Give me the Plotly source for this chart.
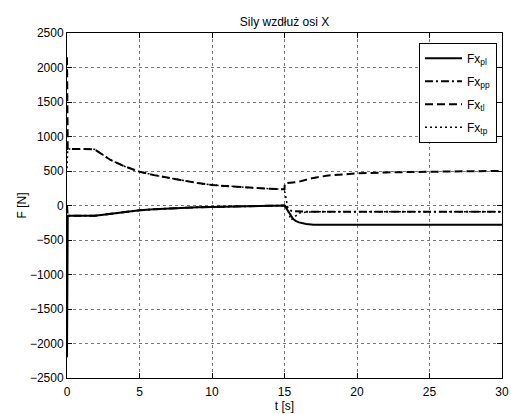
import plotly.graph_objects as go

# Time samples [s]
t = [0, 0.05, 1, 1.9, 2.5, 3, 4, 5, 6, 7, 8, 9, 10, 11, 12, 13, 14, 15,
     15.02, 15.15, 15.3, 15.45, 15.6, 15.8, 16, 16.5, 17, 18, 19, 20,
     22, 24, 26, 28, 30]

# Longitudinal wheel forces [N]
fx_pl = [-2200, -150, -150, -148, -135, -120, -95, -70, -55, -42, -32, -25, -20,
         -14, -10, -6, -3, 0,
         -5, -50, -110, -160, -195, -225, -245, -268, -278, -280, -280, -280,
         -280, -280, -280, -280, -280]
fx_pp = [0, -150, -150, -148, -135, -120, -95, -70, -55, -42, -32, -25, -20,
         -14, -10, -6, -3, 0,
         -5, -30, -60, -75, -82, -86, -88, -90, -90, -90, -90, -90,
         -90, -90, -90, -90, -90]
fx_tl = [2150, 820, 820, 815, 730, 660, 565, 490, 440, 398, 360, 325, 297,
         280, 265, 253, 243, 235,
         320, 325, 330, 333, 336, 340, 345, 375, 400, 435, 455, 465,
         480, 488, 494, 497, 500]
fx_tp = [540, 820, 820, 815, 730, 660, 565, 490, 440, 398, 360, 325, 297,
         280, 265, 253, 243, 235,
         200, 50, -120, -210, -185, -140, -110, -95, -90, -90, -90, -90,
         -90, -90, -90, -90, -90]

series = [
    ("Fx<sub>pl</sub>", fx_pl, "solid", 2),
    ("Fx<sub>pp</sub>", fx_pp, "8px,3px,2px,3px", 2),
    ("Fx<sub>tl</sub>", fx_tl, "8px,4px", 2),
    ("Fx<sub>tp</sub>", fx_tp, "2px,3px", 1.5),
]

FONT = "Liberation Sans, Arial, Helvetica, sans-serif"

fig = go.Figure()
for i, (name, vals, dash, w) in enumerate(series):
    fig.add_trace(go.Scatter(
        x=t, y=vals, name=name, mode="lines", legendgroup=f"g{i}",
        line=dict(color="black", width=w, dash=dash),
    ))

axis_common = dict(
    showline=True, linecolor="black", linewidth=1, mirror="ticks",
    ticks="inside", ticklen=5, tickcolor="black",
    showgrid=True, gridcolor="#777777", griddash="dot", gridwidth=1,
    zeroline=False, automargin=False,
    tickfont=dict(family=FONT, size=12, color="black"),
)

fig.update_layout(
    width=511, height=414,
    margin=dict(l=67, r=9, t=33, b=36),
    paper_bgcolor="white", plot_bgcolor="white",
    font=dict(family=FONT, size=12, color="black"),
    title=dict(text="Sily wzdłuż osi X", x=(67 + 502) / 2 / 511, xanchor="center",
               y=1 - 22 / 414, yanchor="middle", yref="container",
               font=dict(family=FONT, size=12, color="black")),
    xaxis=dict(range=[0, 30], dtick=5, ticklabelstandoff=3,
               title=dict(text="t [s]", standoff=1,
                          font=dict(family=FONT, size=12, color="black")),
               **axis_common),
    yaxis=dict(range=[-2500, 2500], dtick=500,
               title=dict(text="F [N]", standoff=0,
                          font=dict(family=FONT, size=12, color="black")),
               **axis_common),
    legend=dict(x=0.9885, xanchor="right", y=0.972, yanchor="top",
                bgcolor="white", bordercolor="black", borderwidth=1,
                font=dict(family=FONT, size=12, color="black"),
                tracegroupgap=4, itemwidth=37),
    showlegend=True,
)

fig.write_html("out.html")
